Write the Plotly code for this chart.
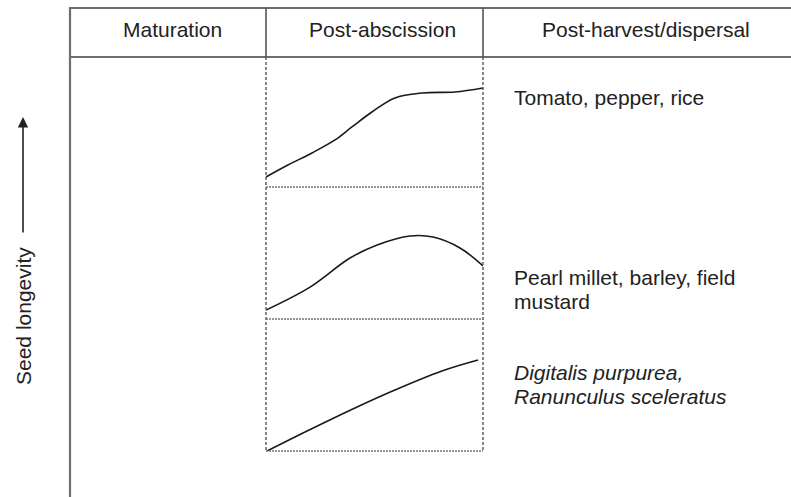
import plotly.graph_objects as go

W, H = 791, 497

# column headings and species notes
stage_labels = ['Maturation', 'Post-abscission', 'Post-harvest/dispersal']
stage_label_x = [172, 382, 646]
species_text = [
    ['Tomato, pepper, rice'],
    ['Pearl millet, barley, field', 'mustard'],
    ['<i>Digitalis purpurea,</i>', '<i>Ranunculus sceleratus</i>'],
]
species_text_y = [[98], [277, 301], [372, 396]]

# seed longevity curves during post-abscission (time 0-1, longevity 0-1 in each panel)
time_tomato = [0.0, 0.101, 0.212, 0.318, 0.396, 0.488, 0.594, 0.719, 0.871, 1.0]
longevity_tomato = [0.077, 0.169, 0.262, 0.362, 0.462, 0.577, 0.685, 0.723, 0.731, 0.762]

time_millet = [0.0, 0.203, 0.387, 0.512, 0.664, 0.770, 0.894, 1.0]
longevity_millet = [0.068, 0.242, 0.462, 0.561, 0.629, 0.621, 0.538, 0.402]

time_digitalis = [0.005, 0.18, 0.41, 0.594, 0.811, 0.977]
longevity_digitalis = [0.0, 0.144, 0.326, 0.462, 0.606, 0.689]


def px(x):
    return x / W


def py(y):
    return 1 - y / H


panel_left, panel_right = 266, 483
panel_edges = [57, 187, 319, 451]

fig = go.Figure()

curves = [(time_tomato, longevity_tomato), (time_millet, longevity_millet),
          (time_digitalis, longevity_digitalis)]
for i, (t, v) in enumerate(curves):
    n = '' if i == 0 else str(i + 1)
    fig.add_trace(go.Scatter(
        x=t, y=v, mode='lines', xaxis='x' + n, yaxis='y' + n,
        line=dict(color='#1a1a1a', width=1.6, shape='spline', smoothing=1.0),
        hoverinfo='skip'
    ))
    axis_opts = dict(visible=False, showgrid=False, zeroline=False, fixedrange=True)
    fig.update_layout({
        'xaxis' + n: dict(domain=[px(panel_left), px(panel_right)], range=[0, 1],
                          anchor='y' + n, **axis_opts),
        'yaxis' + n: dict(domain=[py(panel_edges[i + 1]), py(panel_edges[i])], range=[0, 1],
                          anchor='x' + n, **axis_opts),
    })

frame = dict(color='#6e6e6e', width=2.2)
shapes = [
    # table frame
    dict(type='line', x0=px(69), x1=1, y0=py(8), y1=py(8), line=frame),
    dict(type='line', x0=px(69), x1=1, y0=py(57), y1=py(57), line=frame),
    dict(type='line', x0=px(70), x1=px(70), y0=py(8), y1=0, line=frame),
    dict(type='line', x0=px(266), x1=px(266), y0=py(8), y1=py(57), line=dict(color='#555', width=1.6)),
    dict(type='line', x0=px(483), x1=px(483), y0=py(8), y1=py(57), line=dict(color='#555', width=1.6)),
    # dashed panel box
    dict(type='line', x0=px(266), x1=px(266), y0=py(57), y1=py(451),
         line=dict(color='#555', width=1.4, dash='3px,2px')),
    dict(type='line', x0=px(483), x1=px(483), y0=py(57), y1=py(451),
         line=dict(color='#555', width=1.4, dash='3px,2px')),
]
for yy in panel_edges[1:]:
    shapes.append(dict(type='line', x0=px(266), x1=px(483), y0=py(yy), y1=py(yy),
                       line=dict(color='#777', width=1.4, dash='2px,1px')))
for s in shapes:
    s.update(xref='paper', yref='paper')

font = dict(family='Liberation Sans, Arial, sans-serif', size=21, color='#222')
annotations = []
for lab, x in zip(stage_labels, stage_label_x):
    annotations.append(dict(text=lab, x=px(x), y=py(29), xref='paper', yref='paper',
                            xanchor='center', yanchor='middle', showarrow=False, font=font))
for lines, ys in zip(species_text, species_text_y):
    for line, y in zip(lines, ys):
        annotations.append(dict(text=line, x=px(512), y=py(y), xref='paper', yref='paper',
                                xanchor='left', yanchor='middle', showarrow=False, font=font))

# y axis label with arrow
annotations.append(dict(text='Seed longevity', x=px(23), y=py(316), xref='paper', yref='paper',
                        textangle=-90, xanchor='center', yanchor='middle', showarrow=False, font=font))
annotations.append(dict(text='', x=px(23), y=py(117), xref='paper', yref='paper',
                        ax=0, ay=117, showarrow=True, arrowhead=2, arrowsize=1.3,
                        arrowwidth=1.6, arrowcolor='#222'))

fig.update_layout(
    width=W, height=H,
    margin=dict(l=0, r=0, t=0, b=0),
    paper_bgcolor='white', plot_bgcolor='white',
    showlegend=False,
    shapes=shapes,
    annotations=annotations,
)

# drop the page's default body margin so the figure sits at the window corner
fig.write_html('out.html', config={'displayModeBar': False},
               post_script="document.body.style.margin='0';")
